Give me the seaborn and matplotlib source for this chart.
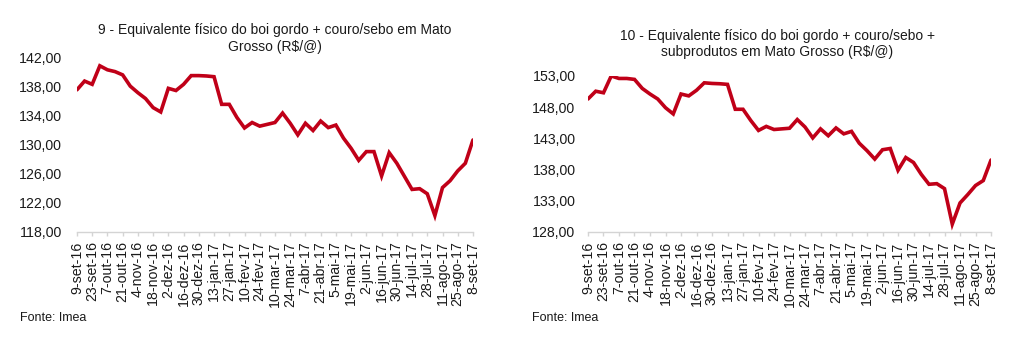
import matplotlib
matplotlib.use("Agg")
import matplotlib.pyplot as plt
import seaborn as sns
import pandas as pd
import numpy as np

# Weekly dates (every other week is labelled on the axis)
week_labels = [
    "9-set-16", "23-set-16", "7-out-16", "21-out-16", "4-nov-16", "18-nov-16",
    "2-dez-16", "16-dez-16", "30-dez-16", "13-jan-17", "27-jan-17", "10-fev-17",
    "24-fev-17", "10-mar-17", "24-mar-17", "7-abr-17", "21-abr-17", "5-mai-17",
    "19-mai-17", "2-jun-17", "16-jun-17", "30-jun-17", "14-jul-17", "28-jul-17",
    "11-ago-17", "25-ago-17", "8-set-17",
]

# Boi gordo + couro/sebo (R$/@)
boi_couro_sebo = [
    137.5, 138.7, 138.25, 140.8, 140.25, 140.0, 139.55, 138.0, 137.1, 136.3,
    135.05, 134.45, 137.7, 137.4, 138.25, 139.45, 139.45, 139.4, 139.3, 135.5,
    135.5, 133.7, 132.25, 133.0, 132.5, 132.75, 133.0, 134.3, 132.9, 131.3,
    132.9, 131.9, 133.2, 132.3, 132.65, 130.85, 129.45, 127.8, 129.0, 129.0,
    125.65, 128.85, 127.4, 125.6, 123.8, 123.9, 123.2, 120.2, 124.05, 125.0,
    126.35, 127.4, 130.6,
]

# Boi gordo + couro/sebo + subprodutos (R$/@)
boi_subprodutos = [
    149.3, 150.55, 150.3, 153.0, 152.6, 152.6, 152.45, 151.0, 150.1, 149.3,
    147.9, 146.9, 150.1, 149.8, 150.7, 151.9, 151.8, 151.75, 151.65, 147.65,
    147.65, 145.85, 144.25, 144.9, 144.4, 144.5, 144.6, 146.0, 144.8, 143.05,
    144.5, 143.4, 144.65, 143.7, 144.1, 142.2, 141.0, 139.65, 141.15, 141.35,
    137.85, 139.9, 139.1, 137.2, 135.6, 135.7, 134.9, 129.2, 132.6, 133.95,
    135.4, 136.2, 139.5,
]

left_ticks = [118, 122, 126, 130, 134, 138, 142]
right_ticks = [128, 133, 138, 143, 148, 153]

titles = [
    "9 - Equivalente físico do boi gordo + couro/sebo em Mato\nGrosso (R$/@)",
    "10 - Equivalente físico do boi gordo + couro/sebo +\nsubprodutos em Mato Grosso (R$/@)",
]
source = "Fonte: Imea"

sns.set_theme(style="white")
plt.rcParams["font.family"] = ["Liberation Sans", "DejaVu Sans"]

LINE = "#C00018"
AXIS = "#d4d4d4"
TEXT = "#1a1a1a"

fig = plt.figure(figsize=(10.18, 3.48), dpi=100)
ax1 = fig.add_axes([0.0756, 0.3345, 0.3890, 0.5015])
ax2 = fig.add_axes([0.5776, 0.3345, 0.3959, 0.4472])


def draw(ax, values, ticks, ypad):
    df = pd.DataFrame({"semana": np.arange(len(values)), "valor": values})
    sns.lineplot(data=df, x="semana", y="valor", ax=ax, color=LINE,
                 linewidth=2.6, solid_joinstyle="miter")
    ax.set_xlim(0, len(values) - 1)
    ax.set_ylim(ticks[0], ticks[-1])
    ax.set_yticks(ticks)
    ax.set_yticklabels([f"{t:.2f}".replace(".", ",") for t in ticks],
                       fontsize=10.2, color=TEXT)
    pos = np.arange(0, len(values), 2)
    ax.set_xticks(pos)
    ax.set_xticklabels(week_labels, rotation=90, fontsize=10.2, color=TEXT)
    ax.set_xlabel("")
    ax.set_ylabel("")
    for s in ("top", "right", "left"):
        ax.spines[s].set_visible(False)
    ax.spines["bottom"].set_color(AXIS)
    ax.spines["bottom"].set_linewidth(1.0)
    ax.tick_params(axis="x", length=3, width=1.0, color=AXIS, pad=4, direction="out",
                   bottom=True)
    ax.tick_params(axis="y", length=0, pad=ypad)
    ax.grid(False)
    ax.patch.set_alpha(0)


draw(ax1, boi_couro_sebo, left_ticks, 11)
draw(ax2, boi_subprodutos, right_ticks, 9)

fig.text(275 / 1018, 1 - 38.5 / 348, titles[0], ha="center", va="center",
         fontsize=10, color=TEXT, linespacing=1.25)
fig.text(777 / 1018, 1 - 44 / 348, titles[1], ha="center", va="center",
         fontsize=10, color=TEXT, linespacing=1.25)

fig.text(20 / 1018, 1 - 318 / 348, source, ha="left", va="center",
         fontsize=9, color=TEXT)
fig.text(532 / 1018, 1 - 318 / 348, source, ha="left", va="center",
         fontsize=9, color=TEXT)

fig.savefig("out.png", dpi=100, facecolor="white")
